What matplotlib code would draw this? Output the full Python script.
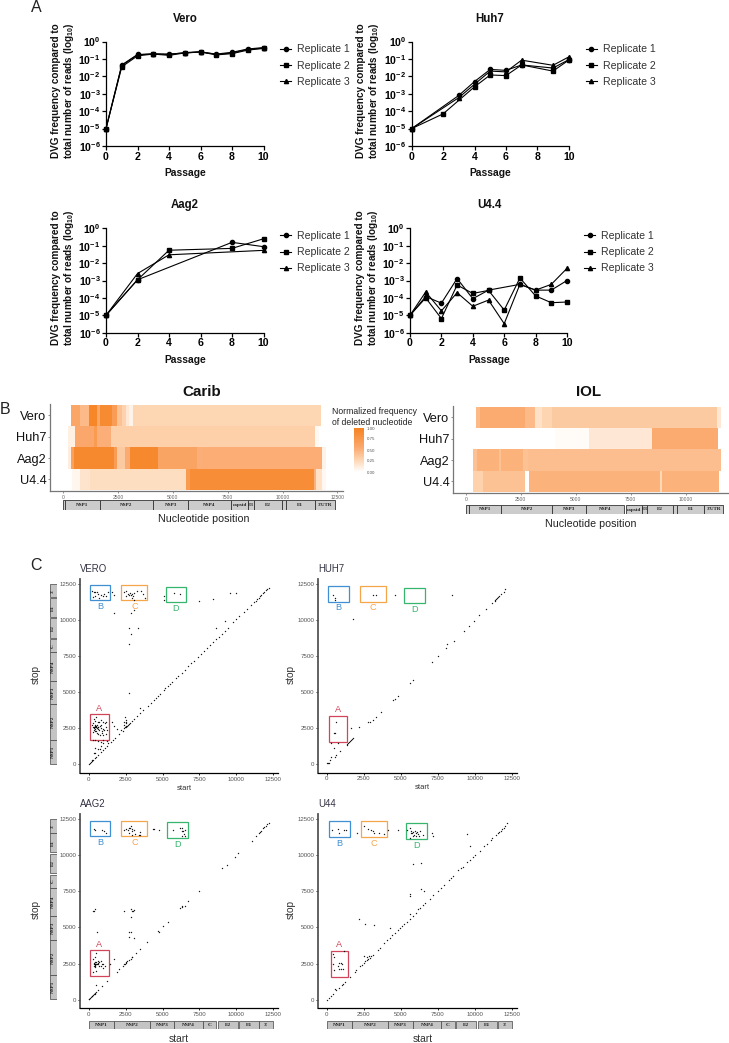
import numpy as np
import matplotlib
matplotlib.use('Agg')
import matplotlib.pyplot as plt
from matplotlib.colors import LinearSegmentedColormap
from matplotlib.patches import Rectangle
from matplotlib.cm import ScalarMappable

plt.rcParams['font.family'] = ['Liberation Sans', 'DejaVu Sans']
plt.rcParams['mathtext.fontset'] = 'custom'
plt.rcParams['mathtext.rm'] = 'Liberation Sans'
plt.rcParams['mathtext.it'] = 'Liberation Sans:italic'
plt.rcParams['mathtext.bf'] = 'Liberation Sans:bold'

W, H = 729, 1043

# Panel A: passages and DVG frequencies per replicate
vero_p = [0, 1, 2, 3, 4, 5, 6, 7, 8, 9, 10]
vero_r1 = [1e-5, .045, .18, .19, .19, .22, .25, .19, .24, .37, .45]
vero_r2 = [1e-5, .035, .15, .19, .16, .22, .25, .17, .20, .32, .40]
vero_r3 = [1e-5, .042, .17, .20, .18, .23, .26, .18, .22, .35, .42]

huh_p1 = [0, 3, 4, 5, 6, 7, 9, 10]
huh_r1 = [1e-5, 8e-4, .005, .025, .022, .045, .03, .09]
huh_p2 = [0, 2, 4, 5, 6, 7, 9, 10]
huh_r2 = [1e-5, 7e-5, .0025, .012, .011, .045, .02, .085]
huh_p3 = [0, 3, 4, 5, 6, 7, 9, 10]
huh_r3 = [1e-5, 6e-4, .0035, .02, .018, .085, .043, .13]

aag_p1 = [0, 2, 8, 10]
aag_r1 = [1e-5, .0011, .156, .088]
aag_p2 = [0, 2, 4, 8, 10]
aag_r2 = [1e-5, .0011, .055, .07, .25]
aag_p3 = [0, 2, 4, 10]
aag_r3 = [1e-5, .0025, .03, .054]

u4_p1 = [0, 1, 2, 3, 4, 5, 7, 8, 9, 10]
u4_r1 = [1e-5, 1.2e-4, 5e-5, .0013, 9e-5, 2.8e-4, 6e-4, 2.8e-4, 2.8e-4, .001]
u4_p2 = [0, 1, 2, 3, 4, 5, 6, 7, 8, 9, 10]
u4_r2 = [1e-5, 1e-4, 6.5e-6, 5.5e-4, 1.8e-4, 2.7e-4, 2e-5, .0014, 1.3e-4, 5.3e-5, 5.8e-5]
u4_p3 = [0, 1, 2, 3, 4, 5, 6, 7, 8, 9, 10]
u4_r3 = [1e-5, 2.2e-4, 1.8e-5, 2e-4, 3.3e-5, 7.5e-5, 3.3e-6, 6e-4, 2.8e-4, 6e-4, .005]

# Panel B: nucleotide breaks and normalized frequency between them
rows = ['Vero', 'Huh7', 'Aag2', 'U4.4']
carib_edges = [
    [350, 760, 1185, 1550, 1670, 2200, 2460, 2660, 2860, 3010, 3160, 11750],
    [230, 530, 1410, 1520, 2160, 11480, 11660],
    [230, 350, 490, 2310, 2460, 2810, 3040, 4300, 6080, 6380, 11780, 11980],
    [380, 760, 1220, 5590, 5775, 11430, 11550, 11780, 12000],
]
carib_vals = [
    [.6, .45, .95, .6, .9, .7, .4, .3, .15, .08, .27],
    [.1, .58, .72, .52, .31, .04],
    [.12, .65, .92, .7, .35, .55, .92, .62, .52, .53, .08],
    [.06, .18, .22, .72, .87, .5, .2, .05],
]
iol_edges = [
    [470, 650, 2700, 3150, 3450, 3900, 11400, 11600],
    [4060, 5600, 8480, 11480],
    [350, 530, 1530, 1610, 2620, 2850, 11600],
    [350, 800, 2700, 2880, 8830, 8900, 11510],
]
iol_vals = [
    [.45, .55, .45, .2, .28, .35, .15],
    [.03, .15, .55],
    [.4, .5, .4, .5, .4, .42],
    [.3, .4, 0, .5, .25, .5],
]
carib_genes = [('', 0, 60), ('NSP1', 60, 1672), ('NSP2', 1672, 4104), ('NSP3', 4104, 5700),
               ('NSP4', 5700, 7646), ('capsid', 7646, 8436), ('E3', 8436, 8710), ('E2', 8710, 9956),
               ('', 9956, 10138), ('E1', 10138, 11460), ("3'UTR", 11460, 12373)]
iol_genes = [('', 30, 130), ('NSP1', 130, 1620), ('NSP2', 1620, 3940), ('NSP3', 3940, 5450),
             ('NSP4', 5450, 7180), ('capsid', 7300, 8030), ('E3', 8030, 8260), ('E2', 8260, 9420),
             ('', 9420, 9590), ('E1', 9590, 10850), ("3'UTR", 10850, 11700)]
cbar_ticks = [0, .25, .5, .75, 1]

# Panel C: deletion start and stop positions
vero_pts = [(50, 50), (100, 120), (150, 170), (200, 230), (250, 280), (300, 320), (400, 430), (500, 520), (650, 660),
            (800, 830), (950, 960), (1100, 1120), (1250, 1270), (1500, 1520), (1650, 1680), (1800, 1820), (2050, 2080),
            (2300, 2320), (2400, 2480), (2450, 2550), (2500, 2600), (2550, 2620), (2600, 2680), (2650, 2750),
            (2700, 2780), (2800, 2850), (2950, 3000), (3100, 3130), (3300, 3320), (3500, 3520), (3700, 3730),
            (4000, 4020), (4200, 4250), (4400, 4420), (4550, 4570), (4700, 4730), (4850, 4900), (5100, 5120),
            (5200, 5250), (5350, 5400), (5500, 5570), (5650, 5700), (5900, 5950), (6050, 6080), (6300, 6350),
            (6500, 6520), (6750, 6800), (6950, 6980), (7100, 7150), (7400, 7420), (7600, 7650), (7800, 7830),
            (8000, 8040), (8200, 8230), (8400, 8450), (8650, 8700), (8800, 8820), (9000, 9030), (9200, 9240),
            (9400, 9420), (9800, 9830), (10000, 10040), (10200, 10230), (10500, 10530), (10700, 10740), (11000, 11030),
            (11200, 11240), (11300, 11330), (11400, 11450), (11500, 11530), (11600, 11640), (11700, 11730),
            (11800, 11830), (11900, 11930), (12000, 12040), (12100, 12130), (12200, 12230),
            (300, 2600), (350, 2550), (400, 2700), (450, 2450), (500, 2650), (550, 2500), (600, 2550), (350, 2400),
            (400, 2300), (500, 2300), (550, 2150), (650, 2100), (750, 2050), (800, 2500), (850, 2700), (950, 2900),
            (1100, 2850), (1200, 2600), (1250, 2350), (1050, 2350), (1150, 2100), (900, 2300), (1000, 2450), (700, 2900),
            (800, 3050), (600, 2950), (450, 3000), (350, 3150), (500, 3250), (300, 2850), (250, 2700), (300, 2250),
            (700, 2350), (650, 2600), (450, 2550), (480, 2600), (520, 2580), (430, 2620), (380, 2500), (560, 2700),
            (620, 2420), (760, 2650), (880, 2200), (980, 2050), (1180, 2900), (300, 1650), (450, 1650), (650, 1600),
            (850, 1550), (1000, 1650), (1250, 1600), (1300, 1500), (400, 1100), (600, 1050), (750, 1050), (850, 1250),
            (1000, 1450), (350, 800), (450, 750), (1600, 2900), (1700, 2650), (1900, 2450), (2200, 2350), (2450, 3300),
            (2550, 3050), (2400, 2900), (2500, 2950), (2550, 2850), (2400, 2700),
            (250, 12000), (350, 11900), (450, 11950), (550, 11900), (650, 11800), (300, 11600), (450, 11650), (700, 11500),
            (800, 11700), (950, 11650), (1050, 11800), (1150, 11650), (1300, 11900), (1550, 11950), (1700, 11750),
            (1700, 10450), (2400, 11900), (2500, 12000), (2650, 11800), (2750, 11750), (2800, 11850), (2850, 11700),
            (2950, 11800), (3000, 11650), (3050, 11850), (2900, 11500), (3100, 11400), (3250, 12000), (3550, 12000),
            (3700, 11800), (3800, 11500), (2500, 11650), (2850, 10500), (3100, 10700), (2700, 9400), (3350, 9400),
            (2850, 9050), (2750, 8300), (2700, 4950), (5100, 11650), (5100, 11400), (5800, 11850), (6150, 11800),
            (7500, 11300), (8450, 11450), (9550, 11850), (10000, 11850), (9250, 9900), (8650, 9450), (3450, 3900)]
huh_pts = [(50, 60), (100, 100), (150, 120), (250, 300), (300, 480), (550, 520), (650, 640), (900, 900), (1350, 1350),
           (1400, 1420), (1450, 1480), (1500, 1520), (1550, 1600), (1650, 1700), (1700, 1750), (1800, 1800),
           (2800, 2900), (2900, 2950), (3100, 3100), (3350, 3300), (3650, 3600), (4450, 4450), (4600, 4550),
           (4800, 4750), (5650, 5600), (5850, 5850), (7100, 7050), (7500, 7500), (8050, 8050), (8150, 8300),
           (8600, 8550), (9250, 9250), (9600, 9600), (9950, 9950), (10300, 10300), (10750, 10750), (11150, 11150),
           (11350, 11300), (11400, 11400), (11450, 11450), (11500, 11500), (11550, 11550), (11650, 11650),
           (11800, 11800), (11950, 11950), (12050, 12100), (600, 2950), (500, 2200), (550, 2200), (300, 1450),
           (750, 1500), (500, 1150), (1650, 2500), (2150, 2550), (450, 11750), (550, 11500), (550, 11400),
           (3150, 11750), (3300, 11700), (4600, 11750), (8450, 11700), (1800, 10050)]
aag_pts = [(0, 30), (50, 80), (100, 120), (150, 180), (200, 230), (250, 280), (300, 330), (350, 380), (400, 420),
           (450, 480), (500, 520), (650, 680), (900, 920), (1250, 1300), (1950, 1950), (2050, 2100), (2350, 2350),
           (2400, 2450), (2450, 2500), (2500, 2550), (2550, 2600), (2600, 2650), (2700, 2750), (2850, 2850),
           (2900, 2950), (2950, 2950), (3200, 3200), (3500, 3500), (3950, 4000), (4750, 4700), (4700, 4750),
           (5050, 5100), (5350, 5350), (6200, 6350), (6300, 6400), (6350, 6450), (6500, 6500), (6750, 6800),
           (7500, 7500), (9000, 9100), (9350, 9350), (9900, 9900), (10100, 10150), (11050, 11000), (11300, 11350),
           (11500, 11500), (11600, 11600), (11700, 11700), (11800, 11850), (11900, 11950), (12000, 12050),
           (12100, 12150), (12200, 12200), (300, 1900), (500, 2000), (450, 2250), (350, 2350), (400, 2350),
           (450, 2400), (350, 2450), (400, 2500), (450, 2500), (500, 2500), (550, 2500), (600, 2450), (350, 2550),
           (400, 2600), (500, 2600), (600, 2550), (700, 2600), (800, 2650), (900, 2500), (1000, 2450), (1100, 2350),
           (850, 2300), (1000, 2200), (700, 2300), (300, 2800), (450, 2950), (500, 3250), (650, 2700), (1450, 2450),
           (1700, 2850), (500, 1000), (300, 6150), (350, 6150), (400, 6300), (550, 4700), (2400, 6150), (2850, 6300),
           (2900, 6150), (3000, 6150), (3050, 6200), (2850, 5700), (2700, 4700), (2850, 4700), (2700, 4350),
           (3100, 4250), (350, 11800), (450, 11750), (900, 11750), (1050, 11650), (1150, 11500), (2400, 11750),
           (2550, 11800), (2650, 11750), (2700, 11900), (2800, 11850), (2850, 12000), (2900, 11800), (2950, 11700),
           (3100, 11750), (2750, 11500), (2900, 11400), (3150, 11450), (3400, 11400), (3500, 11600), (3500, 11400),
           (4350, 11800), (4450, 11800), (4750, 11750), (5700, 11750), (6150, 11900), (6300, 11850), (6300, 11650),
           (6400, 11650), (6500, 11750), (6300, 11350), (6450, 11450), (6500, 11350)]
u44_pts = [(50, 0), (150, 100), (300, 250), (450, 400), (550, 750), (650, 650), (800, 800), (1000, 1000), (1100, 1100),
           (1250, 1250), (1550, 1550), (1900, 1900), (2000, 2050), (2250, 2300), (2400, 2400), (2500, 2550), (2600, 2650),
           (2700, 2750), (2800, 2800), (2900, 2900), (3000, 3050), (3100, 3100), (3450, 3450), (3600, 3600),
           (3850, 3900), (4100, 4150), (4250, 4300), (4400, 4450), (4600, 4600), (4800, 4800), (4950, 4950),
           (5100, 5100), (5250, 5250), (5400, 5400), (5600, 5550), (5800, 5800), (6000, 6000), (6200, 6250),
           (6300, 6350), (6500, 6550), (6650, 6700), (6950, 7000), (7150, 7250), (7500, 7500), (7700, 7700),
           (7900, 7900), (8250, 8250), (8400, 8400), (8550, 8550), (8900, 8950), (9050, 9100), (9200, 9200),
           (9500, 9550), (9650, 9650), (9900, 9900), (10000, 10000), (10350, 10300), (10650, 10650), (10800, 10800),
           (11100, 11050), (11200, 11200), (11450, 11400), (11550, 11500), (11650, 11600), (11750, 11700),
           (11850, 11800), (11950, 11900), (12050, 12000), (12200, 12200), (450, 3150), (500, 2950), (450, 2450),
           (500, 2050), (750, 2350), (850, 2550), (950, 2550), (1050, 2450), (800, 2150), (950, 2100), (1100, 2100),
           (1200, 3350), (2150, 5550), (2600, 5250), (3200, 5200), (4250, 4950), (2550, 3050), (2700, 2950), (2850, 3000),
           (5600, 7300), (5600, 7150), (6400, 7650), (6550, 7500), (5650, 5900), (5800, 9400), (6350, 9450), (9650, 10650),
           (350, 11750), (750, 11800), (800, 11500), (1150, 11750), (1300, 11750), (2050, 11500), (2550, 12000), (2800, 11800),
           (3000, 11750), (3100, 11650), (3200, 11500), (3500, 11500), (3900, 11450), (4150, 11750), (4800, 11750),
           (5400, 11750), (5650, 11900), (5700, 11700), (5750, 11500), (5800, 11300), (5850, 11600), (5900, 11400),
           (5950, 11650), (6000, 11500), (6050, 11300), (6100, 11600), (6150, 11450), (6250, 11350), (6300, 11650),
           (6500, 11400), (7100, 11500), (7150, 11350), (9450, 11450), (5650, 11200), (5700, 11500)]
c_genes = [('NSP1', 40, 1700), ('NSP2', 1700, 4150), ('NSP3', 4150, 5800), ('NSP4', 5800, 7750),
           ('C', 7750, 8650), ('E2', 8750, 10100), ('E1', 10200, 11500), ("3'", 11550, 12500)]
vero_boxes = [('A', '#D0455A', 113, 1683, 1354, 3459), ('B', '#3F8FD2', 68, 11346, 1466, 12430),
              ('C', '#F5A54A', 2211, 11346, 3970, 12430), ('D', '#35B56E', 5210, 11207, 6610, 12290)]
huh_boxes = [('A', '#D0455A', 157, 1568, 1350, 3367), ('B', '#3F8FD2', 112, 11253, 1485, 12337),
             ('C', '#F5A54A', 2228, 11253, 3982, 12337), ('D', '#35B56E', 5242, 11138, 6637, 12222)]
aag_boxes = [('A', '#D0455A', 113, 1637, 1354, 3413), ('B', '#3F8FD2', 68, 11300, 1466, 12383),
             ('C', '#F5A54A', 2211, 11300, 3970, 12383), ('D', '#35B56E', 5324, 11161, 6700, 12268)]
u44_boxes = [('A', '#D0455A', 270, 1591, 1440, 3367), ('B', '#3F8FD2', 180, 11253, 1575, 12337),
             ('C', '#F5A54A', 2317, 11253, 4095, 12337), ('D', '#35B56E', 5332, 11115, 6750, 12199)]

fig = plt.figure(figsize=(W / 100, H / 100), dpi=100)


def px_ax(left, top, right, bottom):
    return fig.add_axes([left / W, 1 - bottom / H, (right - left) / W, (bottom - top) / H])


def px_text(x, y, s, **kw):
    kw.setdefault('ha', 'center')
    kw.setdefault('va', 'center')
    return fig.text(x / W, 1 - y / H, s, **kw)


for x, y, s in [(36, 7, 'A'), (5, 410, 'B'), (36, 566, 'C')]:
    px_text(x, y, s, fontsize=11.5, color='#222222')

# Panel A
markers = ['o', 's', '^']
ylab = 'DVG frequency compared to\ntotal number of reads (log$\\mathbf{_{10}}$)'
ytl = [r'$\mathbf{10^{%d}}$' % e for e in range(-6, 1)]


def line_panel(box, title, xt, series, lab_x, leg_x):
    left, top, right, bottom = box
    ax = px_ax(left, top, right, bottom)
    for i, (p, v) in enumerate(series):
        ax.plot(p, v, color='black', lw=0.8, marker=markers[i], ms=3, clip_on=False,
                label='Replicate %d' % (i + 1))
    ax.set_yscale('log')
    ax.set_xlim(0, 10)
    ax.set_ylim(1e-6, 1)
    ax.set_xticks([0, 2, 4, 6, 8, 10])
    ax.set_xticklabels(['0', '2', '4', '6', '8', '10'], fontweight='bold', fontsize=7.6)
    ax.set_yticks([10.0 ** e for e in range(-6, 1)])
    ax.set_yticklabels(ytl, fontsize=7.6)
    ax.minorticks_off()
    ax.tick_params(length=2.8, width=0.9, pad=1.2)
    ax.patch.set_alpha(0)
    for s in ['top', 'right']:
        ax.spines[s].set_visible(False)
    for s in ['left', 'bottom']:
        ax.spines[s].set_linewidth(0.9)
    px_text(xt, top - 23, title, fontsize=8.3, fontweight='bold', color='#111111')
    px_text(xt, bottom + 27, 'Passage', fontsize=7.4, fontweight='bold', color='#111111')
    px_text(lab_x, (top + bottom) / 2 - 3, ylab, fontsize=7.2, fontweight='bold', rotation=90,
            multialignment='center', linespacing=1.05, color='#111111')
    ax.legend(loc='center left', bbox_to_anchor=(leg_x / W, 1 - (top + 24) / H),
              bbox_transform=fig.transFigure, frameon=False, fontsize=7.6, borderpad=0, borderaxespad=0,
              handlelength=1.05, handletextpad=0.6, labelspacing=0.58, labelcolor='#333333')


line_panel((106, 41.5, 263.5, 146), 'Vero', 185,
           [(vero_p, vero_r1), (vero_p, vero_r2), (vero_p, vero_r3)], 63.5, 280)
line_panel((411.7, 41.5, 568.7, 146), 'Huh7', 490,
           [(huh_p1, huh_r1), (huh_p2, huh_r2), (huh_p3, huh_r3)], 368.5, 585.5)
line_panel((106, 228.3, 263.5, 332.7), 'Aag2', 185,
           [(aag_p1, aag_r1), (aag_p2, aag_r2), (aag_p3, aag_r3)], 63.5, 280)
line_panel((410, 228.3, 567, 332.7), 'U4.4', 489,
           [(u4_p1, u4_r1), (u4_p2, u4_r2), (u4_p3, u4_r3)], 367.5, 584)

# Panel B
cmap = LinearSegmentedColormap.from_list(
    'delfreq', [(0, '#FFFFFF'), (.27, '#FDD6B3'), (.55, '#FBAA70'), (1, '#F58220')], N=256)


def heat_panel(box, x0, per_nt, edges, vals, xticks, title, xt, label_y, genes, gene_box):
    left, top, right, bottom = box
    ax = px_ax(left, top, right, bottom)
    ax.set_xlim((left - x0) / per_nt, (right - x0) / per_nt)
    ax.set_ylim(4.03, -0.03)
    for i, (e, v) in enumerate(zip(edges, vals)):
        ax.pcolormesh(e, [i, i + 1], [v], cmap=cmap, vmin=0, vmax=1, linewidth=0, rasterized=True)
    ax.set_xticks(xticks)
    ax.set_xticklabels([str(t) for t in xticks], fontsize=3.6, color='#666666')
    ax.set_yticks([0.5, 1.5, 2.5, 3.5])
    ax.set_yticklabels(rows, fontsize=9.2, color='#111111')
    ax.tick_params(axis='x', length=1.5, width=0.5, pad=1.5, color='#666666')
    ax.tick_params(axis='y', length=1.5, width=0.5, pad=0.8, color='#666666')
    for s in ['top', 'right']:
        ax.spines[s].set_visible(False)
    for s in ['left', 'bottom']:
        ax.spines[s].set_linewidth(0.9)
        ax.spines[s].set_color('#777777')
    px_text(xt, 392, title, fontsize=10.9, fontweight='bold', color='#111111')
    px_text(xt + 2, label_y, 'Nucleotide position', fontsize=7.7, color='#222222')
    gtop, gbottom = gene_box
    gax = px_ax(left, gtop, right, gbottom)
    gax.set_xlim(ax.get_xlim())
    gax.set_ylim(0, 1)
    gax.axis('off')
    for name, a, b in genes:
        gax.add_patch(Rectangle((a, 0), b - a, 1, fc='#CCCCCC', ec='#333333', lw=0.6))
        gax.text((a + b) / 2, 0.5, name, ha='center', va='center', fontsize=3.7, fontweight='bold',
                 family='Liberation Serif', color='#222222')


heat_panel((49.7, 404, 343, 490.7), 63.3, 274 / 12500, carib_edges, carib_vals,
           [0, 2500, 5000, 7500, 10000, 12500], 'Carib', 202, 519, carib_genes, (500.3, 509.7))
heat_panel((452.7, 406, 728, 492.7), 465.7, 220 / 10000, iol_edges, iol_vals,
           [0, 2500, 5000, 7500, 10000], 'IOL', 589, 524, iol_genes, (505, 514))

px_text(332, 417, 'Normalized frequency\nof deleted nucleotide', fontsize=6.2, ha='left', color='#222222',
        linespacing=1.15)
cax = px_ax(354, 428, 364, 472)
cb = fig.colorbar(ScalarMappable(cmap=cmap), cax=cax, ticks=cbar_ticks)
cb.outline.set_visible(False)
cb.ax.set_yticklabels(['%.2f' % t for t in cbar_ticks], fontsize=3.2, color='#555555')
cb.ax.tick_params(length=0, pad=2)


# Panel C
def dot_panel(box, x0, x1, y0, y1, pts, boxes, title, small_x, stop_x):
    left, top, right, bottom = box
    ax = px_ax(left, top, right, bottom)
    sx = (x1 - x0) / 12500
    sy = (y0 - y1) / 12500
    ax.set_xlim((left - x0) / sx, (right - x0) / sx)
    ax.set_ylim((y0 - bottom) / sy, (y0 - top) / sy)
    arr = np.array(pts)
    ax.scatter(arr[:, 0], arr[:, 1], s=1, c='black', linewidths=0, alpha=0.9, zorder=3)
    ticks = [0, 2500, 5000, 7500, 10000, 12500]
    ax.set_xticks(ticks)
    ax.set_yticks(ticks)
    ax.set_xticklabels([str(t) for t in ticks])
    ax.set_yticklabels([str(t) for t in ticks])
    ax.tick_params(labelsize=4.4, labelcolor='#555555', length=1.5, width=0.6, pad=1.2)
    for s in ['top', 'right']:
        ax.spines[s].set_visible(False)
    ax.spines['left'].set_linewidth(1.3)
    ax.spines['left'].set_color('#555555')
    ax.spines['bottom'].set_linewidth(0.9)
    for name, col, a, b, c, d in boxes:
        ax.add_patch(Rectangle((a, b), c - a, d - b, fc='none', ec=col, lw=0.9))
        ly = d + 430 if name == 'A' else b - 420
        ax.text((a + c) / 2, ly, name, color=col, fontsize=6.6, ha='center', va='center')
    px_text(left, top - 10, title, fontsize=6.9, ha='left', color='#333344')
    px_text(stop_x, (y0 + y1) / 2 + 0.5, 'stop', fontsize=7.3, rotation=90, color='#333333')
    if small_x:
        px_text((x0 + x1) / 2 + 3, bottom + 15, 'start', fontsize=5.5, color='#333333')
    return ax


def side_genes(ax, left, right):
    p = ax.get_position()
    gax = fig.add_axes([left / W, p.y0, (right - left) / W, p.height])
    gax.set_xlim(0, 1)
    gax.set_ylim(ax.get_ylim())
    gax.axis('off')
    for name, a, b in c_genes:
        gax.add_patch(Rectangle((0, a), 1, b - a, fc='#C4C4C4', ec='#444444', lw=0.5))
        gax.text(0.5, (a + b) / 2, name, rotation=90, ha='center', va='center', fontsize=3.7, fontweight='bold',
                 family='Liberation Serif', color='#222222')


def bottom_genes(ax, top, bottom):
    p = ax.get_position()
    gax = fig.add_axes([p.x0, 1 - bottom / H, p.width, (bottom - top) / H])
    gax.set_xlim(ax.get_xlim())
    gax.set_ylim(0, 1)
    gax.axis('off')
    for name, a, b in c_genes:
        gax.add_patch(Rectangle((a, 0), b - a, 1, fc='#C4C4C4', ec='#444444', lw=0.5))
        gax.text((a + b) / 2, 0.5, name, ha='center', va='center', fontsize=3.9, fontweight='bold',
                 family='Liberation Serif', color='#222222')


ax_v = dot_panel((80, 579, 278, 773), 88.7, 273.3, 764.3, 583.7, vero_pts, vero_boxes, 'VERO', True, 36)
dot_panel((318, 579, 516.7, 772.7), 326.7, 511.7, 764.3, 583.7, huh_pts, huh_boxes, 'HUH7', True, 291)
ax_a = dot_panel((80, 814.3, 278, 1008.3), 88.7, 273.3, 999.7, 819, aag_pts, aag_boxes, 'AAG2', False, 36)
ax_u = dot_panel((318, 814.3, 516.7, 1008.3), 326.7, 511.7, 999.7, 819, u44_pts, u44_boxes, 'U44', False, 291)
side_genes(ax_v, 50, 56.5)
side_genes(ax_a, 50, 56.5)
bottom_genes(ax_a, 1021, 1028.5)
bottom_genes(ax_u, 1021, 1028.5)
px_text(179, 1038.5, 'start', fontsize=7.4, color='#333333')
px_text(423, 1038.5, 'start', fontsize=7.4, color='#333333')

fig.savefig('out.png', dpi=100)
